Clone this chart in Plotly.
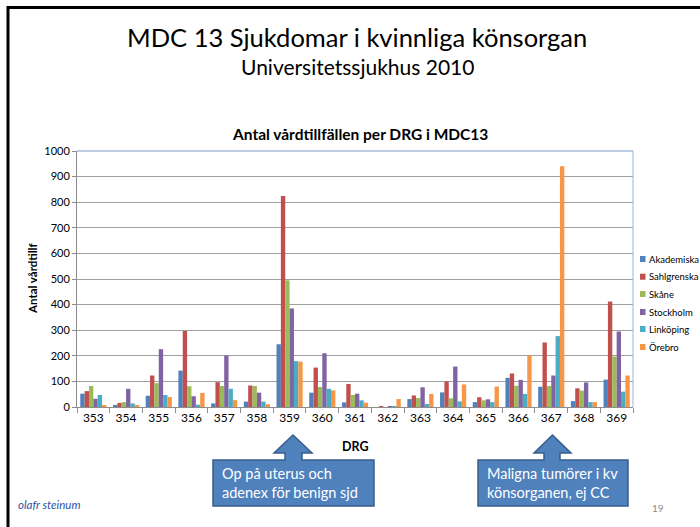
import plotly.graph_objects as go

# ---------------- data ----------------
categories = ["353", "354", "355", "356", "357", "358", "359", "360", "361",
              "362", "363", "364", "365", "366", "367", "368", "369"]
series_names = ["Akademiska", "Sahlgrenska", "Skåne", "Stockholm", "Linköping", "Örebro"]
akademiska = [52, 8, 44, 142, 14, 21, 245, 56, 18, 0, 31, 57, 19, 114, 79, 23, 107]
sahlgrenska = [62, 16, 123, 297, 97, 84, 824, 154, 90, 3, 45, 100, 38, 131, 252, 73, 412]
skane = [82, 19, 93, 81, 82, 82, 495, 78, 47, 0, 35, 34, 26, 83, 82, 64, 197]
stockholm = [32, 71, 226, 42, 201, 56, 385, 210, 52, 1, 77, 158, 30, 106, 123, 96, 295]
linkoping = [47, 14, 47, 9, 71, 21, 179, 71, 26, 2, 12, 22, 19, 51, 277, 19, 60]
orebro = [6, 5, 39, 55, 27, 11, 177, 65, 17, 31, 51, 88, 80, 201, 940, 19, 123]
series_values = [akademiska, sahlgrenska, skane, stockholm, linkoping, orebro]
colors = ["#4F81BD", "#C0504D", "#9BBB59", "#8064A2", "#4BACC6", "#F79646"]

W, H = 700, 527
L, R, T, B = 77, 633, 151, 407  # plot area in pixels
FONT = "Lato"


def px(xp):
    return (xp - L) / (R - L)


def py(yp):
    return (B - yp) / (B - T)


fig = go.Figure()
for name, vals, col in zip(series_names, series_values, colors):
    fig.add_trace(go.Bar(x=categories, y=vals, name=name,
                         marker=dict(color=col, line=dict(width=0)),
                         showlegend=False))

fig.update_layout(
    width=W, height=H,
    margin=dict(l=L, r=W - R, t=T, b=H - B, pad=0),
    paper_bgcolor="white", plot_bgcolor="white",
    barmode="group", bargap=0.2, bargroupgap=0,
    font=dict(family=FONT, color="#000000"),
    xaxis=dict(type="category", showgrid=False, showline=True, linecolor="#8C8C8C",
               linewidth=1, ticks="outside", tickson="boundaries", ticklen=5,
               tickcolor="#8C8C8C", tickfont=dict(size=12, family=FONT, color="#000"),
               fixedrange=True),
    yaxis=dict(range=[0, 1000], dtick=100, showgrid=True, gridcolor="#A0A0A0",
               gridwidth=1, showline=True, linecolor="#8C8C8C", linewidth=1,
               ticks="outside", ticklen=4, tickcolor="#8C8C8C",
               tickfont=dict(size=11, family=FONT, color="#000"), zeroline=False),
)

shapes = []
# plot area border (top/right)
shapes.append(dict(type="line", xref="paper", yref="paper", x0=0, x1=1, y0=1, y1=1,
                   line=dict(color="#7D9BC8", width=1)))
shapes.append(dict(type="line", xref="paper", yref="paper", x0=1, x1=1, y0=0, y1=1,
                   line=dict(color="#9DB4D8", width=1)))
# slide borders
shapes.append(dict(type="line", xref="paper", yref="paper", x0=px(7), x1=px(700),
                   y0=py(7.5), y1=py(7.5), line=dict(color="#000", width=3)))
shapes.append(dict(type="line", xref="paper", yref="paper", x0=px(8), x1=px(8),
                   y0=py(6), y1=py(527), line=dict(color="#000", width=3)))


def callout(x0, x1, sx0, sx1, hx0, hx1, tip):
    top, bot, hb, ty = 460, 506, 453, 435
    pts = [(x0, top), (sx0, top), (sx0, hb), (hx0, hb), (tip, ty), (hx1, hb),
           (sx1, hb), (sx1, top), (x1, top), (x1, bot), (x0, bot)]
    path = "M " + " L ".join(f"{px(a):.5f},{py(b):.5f}" for a, b in pts) + " Z"
    return dict(type="path", xref="paper", yref="paper", path=path,
                fillcolor="#4F81BD", line=dict(color="#385D8A", width=1.5))


shapes.append(callout(213, 374, 285, 302, 274, 312, 293))
shapes.append(callout(478, 628, 544, 560, 534, 571, 552.5))

# manual legend
leg_y = [259, 276.7, 294, 312, 329, 347]
for yy, col in zip(leg_y, colors):
    shapes.append(dict(type="rect", xref="paper", yref="paper", x0=px(640), x1=px(645.5),
                       y0=py(yy - 3), y1=py(yy + 3), fillcolor=col, line=dict(width=0)))

annotations = []
for yy, name in zip(leg_y, series_names):
    annotations.append(dict(text=name, xref="paper", yref="paper", x=px(647), y=py(yy),
                            xanchor="left", yanchor="middle", showarrow=False,
                            font=dict(size=9.5, family=FONT, color="#000")))


def ann(text, x, y, size, color="#000", xanchor="center", **kw):
    annotations.append(dict(text=text, xref="paper", yref="paper", x=px(x), y=py(y),
                            xanchor=xanchor, yanchor="middle", showarrow=False,
                            font=dict(size=size, family=FONT, color=color), **kw))


ann("MDC 13 Sjukdomar i kvinnliga könsorgan", 357, 37, 25.5)
ann("Universitetssjukhus 2010", 357, 66, 21)
ann("<b>Antal vårdtillfällen per DRG i MDC13</b>", 360, 134, 15.5)
ann("<b>Antal vårdtillf</b>", 32, 279, 11.5, textangle=-90)
ann("<b>DRG</b>", 355, 446, 12.5)
ann("Op på uterus och<br>adenex för benign sjd", 220, 483, 14.5, color="#FFFFFF",
    xanchor="left", align="left")
ann("Maligna tumörer i kv<br>könsorganen, ej CC", 485, 483, 14.5, color="#FFFFFF",
    xanchor="left", align="left")
ann("<i>olafr steinum</i>", 16, 504, 11.5, color="#2E4FA8", xanchor="left")
ann("19", 658, 508, 10, color="#8C8C8C")

fig.update_layout(shapes=shapes, annotations=annotations)
fig.write_html("out.html", config={"displayModeBar": False},
               post_script="document.body.style.margin='0';"
                           "document.body.style.overflow='hidden';")
